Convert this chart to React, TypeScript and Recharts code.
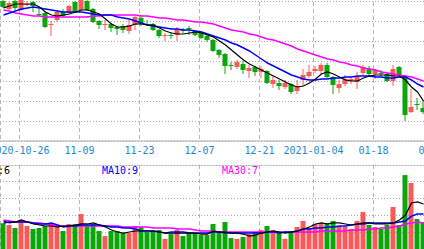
import { ComposedChart, Bar, Line, XAxis, YAxis, CartesianGrid, Cell, ReferenceLine } from "recharts";

const dates = [
  "2020-10-21", "2020-10-22", "2020-10-23", "2020-10-26", "2020-10-27", "2020-10-28", "2020-10-29", "2020-10-30",
  "2020-11-02", "2020-11-03", "2020-11-04", "2020-11-05", "2020-11-06",
  "2020-11-09", "2020-11-10", "2020-11-11", "2020-11-12", "2020-11-13",
  "2020-11-16", "2020-11-17", "2020-11-18", "2020-11-19", "2020-11-20",
  "2020-11-23", "2020-11-24", "2020-11-25", "2020-11-26", "2020-11-27",
  "2020-11-30", "2020-12-01", "2020-12-02", "2020-12-03", "2020-12-04",
  "2020-12-07", "2020-12-08", "2020-12-09", "2020-12-10", "2020-12-11",
  "2020-12-14", "2020-12-15", "2020-12-16", "2020-12-17", "2020-12-18",
  "2020-12-21", "2020-12-22", "2020-12-23", "2020-12-24", "2020-12-25",
  "2020-12-28", "2020-12-29", "2020-12-30", "2020-12-31",
  "2021-01-04", "2021-01-05", "2021-01-06", "2021-01-07", "2021-01-08",
  "2021-01-11", "2021-01-12", "2021-01-13", "2021-01-14", "2021-01-15",
  "2021-01-18", "2021-01-19", "2021-01-20", "2021-01-21", "2021-01-22",
  "2021-01-25", "2021-01-26", "2021-01-27", "2021-01-28",
];

const open = [
  10.40, 10.32, 10.40, 10.31, 10.36, 10.39, 10.27, 10.28, 10.16, 10.21,
  10.29, 10.28, 10.39, 10.31, 10.40, 10.32, 10.20, 10.16, 10.17, 10.14,
  10.15, 10.10, 10.16, 10.23, 10.17, 10.17, 10.11, 10.05, 10.06, 10.06,
  10.11, 10.13, 10.10, 10.08, 10.05, 10.01, 9.91, 9.87, 9.76, 9.74,
  9.77, 9.70, 9.74, 9.69, 9.70, 9.57, 9.58, 9.54, 9.57, 9.50,
  9.61, 9.65, 9.70, 9.70, 9.76, 9.64, 9.53, 9.57, 9.60, 9.59,
  9.68, 9.72, 9.67, 9.68, 9.67, 9.60, 9.74, 9.65, 9.29, 9.37,
  9.33,
];
const close = [
  10.34, 10.38, 10.33, 10.41, 10.37, 10.35, 10.26, 10.14, 10.17, 10.29,
  10.25, 10.35, 10.29, 10.41, 10.31, 10.19, 10.16, 10.17, 10.13, 10.12,
  10.11, 10.16, 10.24, 10.17, 10.16, 10.11, 10.05, 10.06, 10.05, 10.12,
  10.10, 10.12, 10.06, 10.03, 10.01, 9.90, 9.86, 9.75, 9.75, 9.79,
  9.71, 9.73, 9.69, 9.72, 9.58, 9.61, 9.55, 9.58, 9.49, 9.55,
  9.66, 9.69, 9.72, 9.76, 9.64, 9.56, 9.57, 9.62, 9.62, 9.65,
  9.74, 9.67, 9.71, 9.67, 9.60, 9.72, 9.66, 9.26, 9.34, 9.36,
  9.29,
];
const high = [
  10.41, 10.39, 10.41, 10.42, 10.40, 10.40, 10.32, 10.29, 10.20, 10.30,
  10.32, 10.36, 10.40, 10.42, 10.41, 10.33, 10.21, 10.21, 10.18, 10.15,
  10.17, 10.21, 10.25, 10.25, 10.21, 10.18, 10.12, 10.08, 10.09, 10.14,
  10.13, 10.15, 10.11, 10.10, 10.06, 10.02, 9.92, 9.88, 9.79, 9.81,
  9.80, 9.76, 9.75, 9.75, 9.71, 9.65, 9.61, 9.61, 9.58, 9.61,
  9.72, 9.76, 9.75, 9.78, 9.78, 9.65, 9.61, 9.66, 9.65, 9.69,
  9.76, 9.75, 9.72, 9.71, 9.68, 9.76, 9.75, 9.66, 9.52, 9.43,
  9.41,
];
const low = [
  10.33, 10.31, 10.31, 10.30, 10.35, 10.29, 10.25, 10.13, 10.05, 10.19,
  10.24, 10.27, 10.28, 10.30, 10.30, 10.18, 10.12, 10.11, 10.09, 10.06,
  10.08, 10.07, 10.11, 10.15, 10.15, 10.10, 10.03, 10.00, 10.02, 10.00,
  10.08, 10.06, 10.05, 10.02, 9.99, 9.89, 9.83, 9.67, 9.71, 9.72,
  9.67, 9.63, 9.65, 9.63, 9.57, 9.53, 9.51, 9.52, 9.47, 9.47,
  9.55, 9.63, 9.68, 9.67, 9.63, 9.47, 9.48, 9.55, 9.57, 9.52,
  9.66, 9.65, 9.62, 9.64, 9.59, 9.55, 9.65, 9.20, 9.28, 9.31,
  9.27,
];

const ma5 = [
  10.33, 10.35, 10.37, 10.37, 10.37, 10.37, 10.34, 10.29, 10.26, 10.25,
  10.26, 10.27, 10.29, 10.31, 10.31, 10.29, 10.27, 10.22, 10.17, 10.14,
  10.14, 10.15, 10.17, 10.17, 10.16, 10.16, 10.13, 10.10, 10.08, 10.07,
  10.07, 10.08, 10.09, 10.08, 10.06, 10.04, 10.00, 9.96, 9.91, 9.86,
  9.81, 9.77, 9.74, 9.71, 9.68, 9.65, 9.62, 9.59, 9.56, 9.54,
  9.55, 9.58, 9.62, 9.67, 9.69, 9.67, 9.64, 9.61, 9.60, 9.60,
  9.63, 9.65, 9.66, 9.66, 9.66, 9.65, 9.65, 9.61, 9.54, 9.49,
  9.40,
];
const ma10 = [
  10.26, 10.28, 10.30, 10.32, 10.33, 10.34, 10.33, 10.32, 10.31, 10.30,
  10.29, 10.29, 10.29, 10.29, 10.28, 10.27, 10.26, 10.26, 10.26, 10.24,
  10.23, 10.22, 10.20, 10.18, 10.16, 10.15, 10.14, 10.13, 10.12, 10.12,
  10.11, 10.11, 10.10, 10.09, 10.07, 10.05, 10.03, 10.01, 9.98, 9.96,
  9.93, 9.90, 9.86, 9.82, 9.78, 9.75, 9.72, 9.69, 9.66, 9.64,
  9.62, 9.61, 9.61, 9.62, 9.62, 9.63, 9.63, 9.64, 9.64, 9.65,
  9.65, 9.65, 9.64, 9.64, 9.63, 9.63, 9.64, 9.64, 9.61, 9.57,
  9.54,
];
const ma30 = [
  10.31, 10.30, 10.28, 10.27, 10.26, 10.25, 10.25, 10.24, 10.24, 10.24,
  10.24, 10.24, 10.24, 10.24, 10.24, 10.25, 10.25, 10.26, 10.26, 10.26,
  10.26, 10.26, 10.26, 10.25, 10.25, 10.24, 10.23, 10.23, 10.22, 10.21,
  10.21, 10.20, 10.19, 10.19, 10.18, 10.17, 10.15, 10.13, 10.11, 10.10,
  10.09, 10.07, 10.06, 10.04, 10.02, 10.01, 9.99, 9.97, 9.95, 9.92,
  9.90, 9.88, 9.86, 9.84, 9.82, 9.81, 9.79, 9.78, 9.76, 9.75,
  9.73, 9.72, 9.71, 9.69, 9.68, 9.67, 9.66, 9.65, 9.64, 9.62,
  9.60,
];

const vol = [
  153, 143, 125, 173, 137, 119, 125, 137, 149, 137,
  107, 149, 149, 208, 137, 149, 107, 77, 107, 107,
  95, 95, 137, 131, 101, 107, 113, 60, 89, 113,
  77, 101, 95, 83, 83, 149, 107, 161, 65, 60,
  71, 89, 101, 113, 137, 113, 101, 60, 101, 131,
  167, 125, 149, 155, 155, 167, 137, 131, 119, 167,
  220, 143, 131, 119, 143, 250, 143, 440, 393, 179,
  161,
];
const vma5 = [
  167, 155, 161, 173, 161, 149, 143, 137, 137, 131,
  137, 137, 143, 149, 149, 155, 143, 131, 113, 101,
  95, 101, 107, 107, 107, 107, 101, 95, 95, 95,
  95, 95, 95, 89, 89, 107, 101, 101, 95, 95,
  89, 77, 83, 95, 101, 107, 101, 95, 101, 107,
  119, 131, 149, 155, 149, 155, 155, 149, 143, 149,
  155, 155, 149, 149, 149, 155, 173, 202, 274, 280,
  268,
];
const vma10 = [
  155, 161, 161, 161, 161, 155, 149, 149, 155, 143,
  131, 137, 137, 143, 143, 143, 143, 137, 131, 131,
  125, 125, 119, 107, 107, 107, 101, 95, 101, 101,
  101, 95, 95, 95, 95, 101, 101, 95, 95, 95,
  95, 95, 95, 95, 101, 101, 95, 101, 101, 107,
  119, 119, 125, 125, 131, 131, 137, 137, 143, 149,
  149, 155, 155, 155, 155, 155, 161, 167, 196, 208,
  208,
];
const vma30 = [
  173, 167, 161, 161, 161, 155, 155, 149, 143, 137,
  137, 137, 137, 137, 137, 137, 137, 137, 137, 137,
  131, 131, 131, 131, 131, 125, 125, 125, 125, 119,
  119, 119, 113, 107, 107, 107, 101, 101, 101, 101,
  101, 101, 101, 101, 101, 101, 101, 101, 101, 101,
  101, 101, 101, 107, 107, 107, 107, 107, 113, 113,
  113, 119, 119, 125, 125, 131, 137, 149, 155, 161,
  155,
];

// date labels under the price panel (index = trading day position, 72 = 02-01 just off screen)
const tickLabels = ["2020-10-26", "11-09", "11-23", "12-07", "12-21", "2021-01-04", "01-18", "02-01"];
const tickIndex = [3, 13, 23, 33, 43, 52, 62, 72];

const priceTicks = [9.0, 9.2, 9.4, 9.6, 9.8, 10.0, 10.2, 10.4, 10.6];
const volTicks = [0, 100, 200, 300, 400, 500];

const legendItems = [
  { label: "MA5:6", color: "#000000", x: -20 },
  { label: "MA10:9", color: "#0000ff", x: 102 },
  { label: "MA30:7", color: "#ff00ff", x: 222 },
];

const RED = "#f85a5a";
const GREEN = "#0aa60a";
const GRID = "#ababab";
const MONO = "'DejaVu Sans Mono', monospace";

const rows = dates.map((d, i) => ({
  idx: i,
  date: d,
  open: open[i],
  close: close[i],
  high: high[i],
  low: low[i],
  range: [low[i], high[i]],
  ma5: ma5[i],
  ma10: ma10[i],
  ma30: ma30[i],
  vol: vol[i],
  vma5: vma5[i],
  vma10: vma10[i],
  vma30: vma30[i],
}));

const CHART_W = 460;
const SLOT = 6;
const X_MIN = -7 / 12;
const X_MAX = X_MIN + CHART_W / SLOT;
const GRID_SHIFT = 1 / 3;
const xTicks = tickIndex.map((i) => i - GRID_SHIFT);

const tickText = (v: number) => {
  const k = tickIndex.indexOf(Math.round(v + GRID_SHIFT));
  return k >= 0 ? tickLabels[k] : "";
};

const Candle = (props: any) => {
  const { x, y, width, height, payload } = props;
  if (x == null || y == null) return null;
  const up = payload.close >= payload.open;
  const color = up ? RED : GREEN;
  const span = payload.high - payload.low || 1;
  const toPx = (v: number) => y + ((payload.high - v) / span) * height;
  const top = toPx(Math.max(payload.open, payload.close));
  const bottom = toPx(Math.min(payload.open, payload.close));
  const cx = x + width / 2;
  return (
    <g>
      <line x1={cx} x2={cx} y1={y} y2={y + height} stroke={color} strokeWidth={1} />
      <rect x={x} y={top} width={width} height={Math.max(1, bottom - top)} fill={color} />
    </g>
  );
};

const lineProps = { type: "linear" as const, dot: false, activeDot: false, isAnimationActive: false };

export default function App() {
  return (
    <div
      style={{
        position: "absolute",
        left: 0,
        top: 0,
        width: 424,
        height: 249,
        overflow: "hidden",
        background: "#fff",
      }}
    >
      <div style={{ position: "absolute", left: 0, top: -19 }}>
        <ComposedChart width={CHART_W} height={184} data={rows} margin={{ top: 0, right: 0, bottom: 0, left: 0 }}>
          <CartesianGrid horizontal vertical={false} stroke={GRID} strokeDasharray="1 2" shapeRendering="crispEdges" />
          <CartesianGrid horizontal={false} vertical stroke="#b8b8b8" strokeDasharray="4 3" shapeRendering="crispEdges" />
          <XAxis
            type="number"
            dataKey="idx"
            domain={[X_MIN, X_MAX]}
            ticks={xTicks}
            interval={0}
            tickFormatter={tickText}
            height={24}
            axisLine={{ stroke: GRID }}
            tickLine={false}
            tickSize={0}
            tickMargin={6}
            tick={{ fill: "#1a8ad6", fontSize: 10, fontFamily: MONO }}
            allowDataOverflow
          />
          <YAxis hide domain={[9.0, 10.6]} ticks={priceTicks} interval={0} allowDataOverflow />
          <Bar dataKey="range" barSize={5} shape={<Candle />} isAnimationActive={false} />
          <Line dataKey="ma30" stroke="#ff00ff" strokeWidth={1.5} {...lineProps} />
          <Line dataKey="ma10" stroke="#0000ff" strokeWidth={1.5} {...lineProps} />
          <Line dataKey="ma5" stroke="#000000" strokeWidth={1.2} {...lineProps} />
        </ComposedChart>
      </div>

      <div style={{ position: "absolute", left: 0, top: 165 }}>
        <ComposedChart width={CHART_W} height={84} data={rows} margin={{ top: 0, right: 0, bottom: 0, left: 0 }}>
          <CartesianGrid horizontal vertical={false} stroke={GRID} strokeDasharray="1 2" shapeRendering="crispEdges" />
          <CartesianGrid horizontal={false} vertical stroke="#b8b8b8" strokeDasharray="4 3" shapeRendering="crispEdges" />
          <XAxis hide type="number" dataKey="idx" domain={[X_MIN, X_MAX]} ticks={xTicks} interval={0} allowDataOverflow />
          <YAxis hide domain={[0, 500]} ticks={volTicks} interval={0} allowDataOverflow />
          <ReferenceLine y={500} stroke={GRID} strokeWidth={1} />
          <Bar dataKey="vol" barSize={5} isAnimationActive={false}>
            {rows.map((r) => (
              <Cell key={r.date} fill={r.close >= r.open ? RED : GREEN} />
            ))}
          </Bar>
          <Line dataKey="vma30" stroke="#ff00ff" strokeWidth={1.5} {...lineProps} />
          <Line dataKey="vma10" stroke="#0000ff" strokeWidth={1.5} {...lineProps} />
          <Line dataKey="vma5" stroke="#000000" strokeWidth={1.2} {...lineProps} />
        </ComposedChart>
      </div>

      <svg width={424} height={249} style={{ position: "absolute", left: 0, top: 0, pointerEvents: "none" }}>
        {legendItems.map((it) => (
          <text key={it.label} x={it.x} y={174} fill={it.color} fontSize={10} fontFamily={MONO}>
            {it.label}
          </text>
        ))}
      </svg>
    </div>
  );
}
